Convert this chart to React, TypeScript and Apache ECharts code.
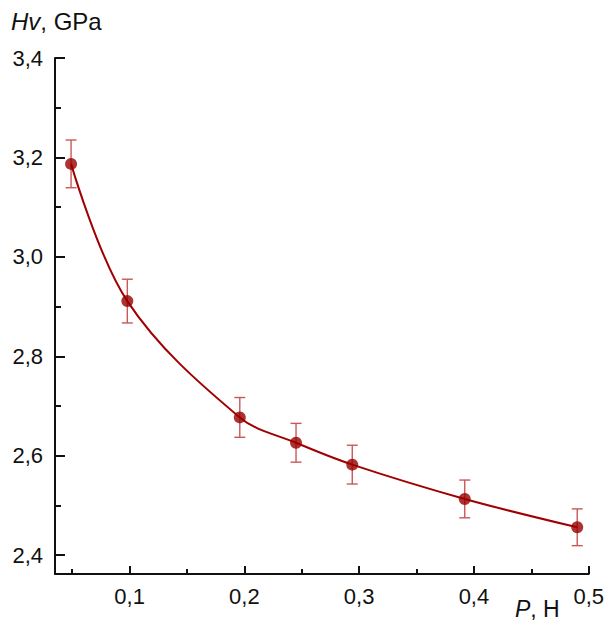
import React, { useEffect, useRef } from "react";
import * as echarts from "echarts";

const loads = [0.049, 0.098, 0.196, 0.245, 0.294, 0.392, 0.49];
const hardness = [3.187, 2.911, 2.677, 2.626, 2.582, 2.513, 2.456];
const errors = [0.048, 0.044, 0.04, 0.039, 0.039, 0.038, 0.037];

const xMajorTicks = [0.1, 0.2, 0.3, 0.4, 0.5];
const xMinorTicks = [0.05, 0.15, 0.25, 0.35, 0.45];
const yMajorTicks = [2.4, 2.6, 2.8, 3.0, 3.2, 3.4];
const yMinorTicks = [2.5, 2.7, 2.9, 3.1, 3.3];

const FONT = "'Liberation Sans', Arial, sans-serif";
const fmt = (v: number) => v.toFixed(1).replace(".", ",");

export default function App() {
  const ref = useRef<HTMLDivElement>(null);
  useEffect(() => {
    if (!ref.current) return;
    const chart = echarts.init(ref.current, null, { renderer: "svg" });
    const pts = loads.map((x, i) => [x, hardness[i]]);
    const bars = loads.map((x, i) => [x, hardness[i] - errors[i], hardness[i] + errors[i]]);
    const axisLine = { show: true, lineStyle: { color: "#111", width: 2 } };
    chart.setOption({
      animation: false,
      backgroundColor: "#fff",
      grid: { left: 55, right: 18, top: 58, bottom: 49 },
      xAxis: [
        {
          type: "value",
          min: 0.035,
          max: 0.5,
          axisLine,
          splitLine: { show: false },
          axisTick: { show: true, inside: true, length: 8, customValues: xMajorTicks, lineStyle: { color: "#111", width: 2 } },
          axisLabel: { customValues: xMajorTicks, formatter: fmt, fontSize: 22, fontFamily: FONT, color: "#111", margin: 11 },
        },
        {
          type: "value",
          min: 0.035,
          max: 0.5,
          position: "bottom",
          axisLine: { show: false },
          splitLine: { show: false },
          axisTick: { show: true, inside: true, length: 5, customValues: xMinorTicks, lineStyle: { color: "#111", width: 2 } },
          axisLabel: { show: false },
        },
      ],
      yAxis: [
        {
          type: "value",
          min: 2.362,
          max: 3.4,
          axisLine,
          splitLine: { show: false },
          axisTick: { show: true, inside: true, length: 10, customValues: yMajorTicks, lineStyle: { color: "#111", width: 2 } },
          axisLabel: { customValues: yMajorTicks, formatter: fmt, fontSize: 22, fontFamily: FONT, color: "#111", margin: 12 },
        },
        {
          type: "value",
          min: 2.362,
          max: 3.4,
          position: "left",
          axisLine: { show: false },
          splitLine: { show: false },
          axisTick: { show: true, inside: true, length: 6, customValues: yMinorTicks, lineStyle: { color: "#111", width: 2 } },
          axisLabel: { show: false },
        },
      ],
      series: [
        {
          type: "custom",
          xAxisIndex: 0,
          yAxisIndex: 0,
          data: bars,
          z: 1,
          renderItem: (params: any, api: any) => {
            const x = api.value(0);
            const lo = api.coord([x, api.value(1)]);
            const hi = api.coord([x, api.value(2)]);
            const hw = 5.5;
            const style = { stroke: "#c95858", lineWidth: 1.4 };
            return {
              type: "group",
              children: [
                { type: "line", shape: { x1: hi[0], y1: hi[1], x2: lo[0], y2: lo[1] }, style },
                { type: "line", shape: { x1: hi[0] - hw, y1: hi[1], x2: hi[0] + hw, y2: hi[1] }, style },
                { type: "line", shape: { x1: lo[0] - hw, y1: lo[1], x2: lo[0] + hw, y2: lo[1] }, style },
              ],
            };
          },
        },
        {
          type: "line",
          xAxisIndex: 0,
          yAxisIndex: 0,
          data: pts,
          smooth: 0.35,
          showSymbol: false,
          lineStyle: { color: "#a00000", width: 2 },
          z: 2,
        },
        {
          type: "scatter",
          xAxisIndex: 0,
          yAxisIndex: 0,
          data: pts,
          symbolSize: 12,
          itemStyle: { color: "#990000" },
          z: 3,
        },
      ],
      graphic: [
        {
          type: "text",
          left: 11,
          top: 9,
          style: {
            text: "{i|Hv}{n|, GPa}",
            rich: {
              i: { fontSize: 24, fontStyle: "italic", fontFamily: FONT, fill: "#111" },
              n: { fontSize: 24, fontFamily: FONT, fill: "#111" },
            },
          },
        },
        {
          type: "text",
          left: 515,
          top: 597,
          style: {
            text: "{i|P}{n|, Н}",
            rich: {
              i: { fontSize: 23, lineHeight: 24, fontStyle: "italic", fontFamily: FONT, fill: "#111" },
              n: { fontSize: 23, lineHeight: 24, fontFamily: FONT, fill: "#111" },
            },
          },
        },
      ],
    });
    return () => chart.dispose();
  }, []);
  return <div ref={ref} style={{ position: "absolute", left: 0, top: 0, width: 607, height: 623 }} />;
}
